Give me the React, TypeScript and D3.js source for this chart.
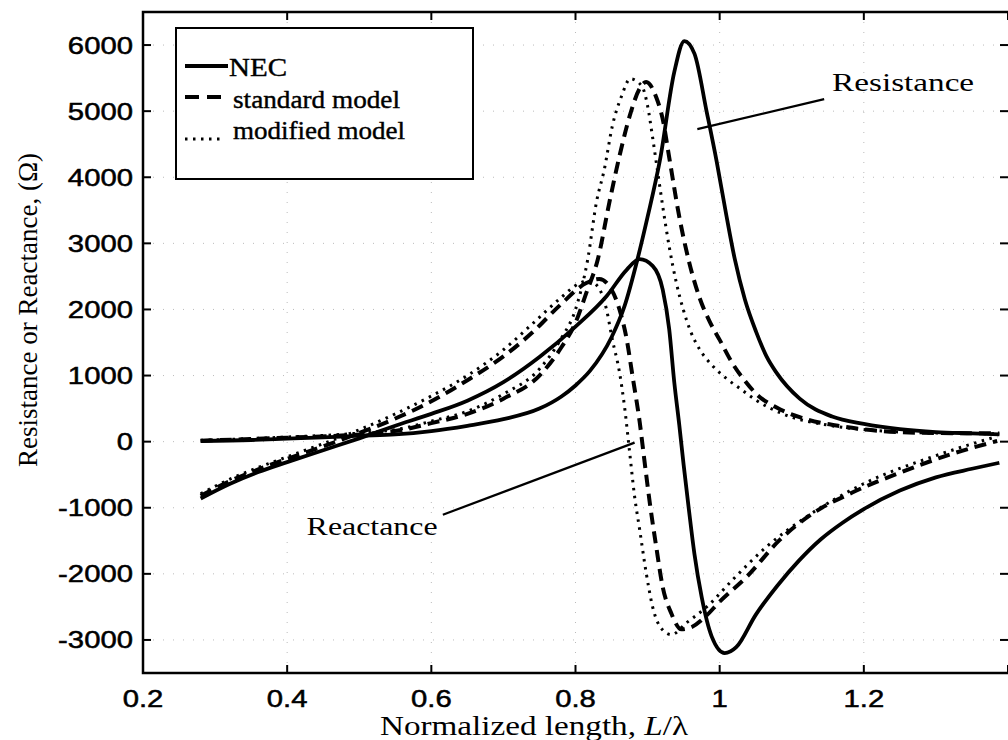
import React, { useEffect, useRef } from "react";
import * as d3 from "d3";

// tick values / labels
const xTicks = [0.2, 0.4, 0.6, 0.8, 1, 1.2, 1.4];
const xTickLabels = ["0.2", "0.4", "0.6", "0.8", "1", "1.2", ""];
const yTicks = [-3000, -2000, -1000, 0, 1000, 2000, 3000, 4000, 5000, 6000];
const yTickLabels = ["-3000", "-2000", "-1000", "0", "1000", "2000", "3000", "4000", "5000", "6000"];

// NEC (solid)
const necResistance = [
  [0.28, 10], [0.35, 25], [0.4, 45], [0.45, 65], [0.5, 90], [0.55, 110], [0.6, 160],
  [0.65, 240], [0.7, 340], [0.75, 500], [0.78, 680], [0.8, 850], [0.82, 1070], [0.85, 1580],
  [0.868, 2050], [0.886, 2760], [0.9, 3400], [0.917, 4250], [0.937, 5590], [0.951, 6060],
  [0.965, 5870], [0.982, 4990], [0.996, 4230], [1.009, 3440], [1.021, 2760], [1.035, 2150],
  [1.051, 1650], [1.065, 1290], [1.079, 1040], [1.111, 650], [1.156, 380], [1.2, 270],
  [1.25, 190], [1.3, 145], [1.35, 125], [1.388, 110],
];
const necReactance = [
  [0.28, -860], [0.32, -640], [0.36, -460], [0.4, -310], [0.45, -130], [0.5, 50], [0.55, 240],
  [0.6, 420], [0.65, 620], [0.7, 900], [0.75, 1280], [0.8, 1740], [0.843, 2200], [0.871, 2600],
  [0.889, 2760], [0.907, 2660], [0.921, 2300], [0.93, 1700], [0.937, 900], [0.944, 250],
  [0.95, -350], [0.957, -1000], [0.965, -1700], [0.975, -2350], [0.989, -2950], [1.007, -3200],
  [1.023, -3110], [1.05, -2620], [1.08, -2180], [1.11, -1800], [1.14, -1480], [1.17, -1230],
  [1.2, -1020], [1.25, -740], [1.3, -540], [1.35, -410], [1.388, -320],
];

// standard model (dashed)
const stdResistance = [
  [0.28, 15], [0.4, 60], [0.5, 110], [0.56, 180], [0.6, 280], [0.65, 420], [0.7, 650],
  [0.75, 1000], [0.78, 1420], [0.8, 1800], [0.815, 2250], [0.831, 2760], [0.847, 3620],
  [0.861, 4320], [0.875, 4920], [0.89, 5360], [0.898, 5440], [0.912, 5210], [0.921, 4880],
  [0.93, 4300], [0.944, 3400], [0.958, 2700], [0.972, 2180], [0.986, 1820], [1.0, 1540],
  [1.018, 1180], [1.035, 920], [1.052, 710], [1.079, 515], [1.111, 370], [1.17, 230],
  [1.226, 160], [1.3, 130], [1.388, 125],
];
const stdReactance = [
  [0.28, -820], [0.32, -600], [0.36, -420], [0.4, -260], [0.45, -70], [0.5, 130], [0.55, 350],
  [0.6, 610], [0.65, 930], [0.7, 1290], [0.74, 1650], [0.78, 2080], [0.815, 2400], [0.833, 2460],
  [0.847, 2350], [0.861, 2000], [0.871, 1550], [0.879, 1000], [0.889, 300], [0.896, -320],
  [0.903, -920], [0.912, -1590], [0.921, -2200], [0.933, -2600], [0.947, -2840], [0.962, -2800],
  [0.98, -2650], [1.0, -2420], [1.037, -2050], [1.083, -1490], [1.13, -1080], [1.184, -770],
  [1.25, -470], [1.318, -200], [1.385, 10],
];

// modified model (dotted)
const modResistance = [
  [0.28, 20], [0.4, 70], [0.5, 130], [0.56, 200], [0.6, 310], [0.65, 460], [0.7, 720],
  [0.75, 1100], [0.78, 1560], [0.8, 2000], [0.817, 2760], [0.829, 3620], [0.84, 4120],
  [0.851, 4770], [0.864, 5230], [0.876, 5490], [0.892, 5380], [0.9, 5080], [0.907, 4600],
  [0.914, 4080], [0.921, 3560], [0.93, 2950], [0.94, 2400], [0.95, 1980], [0.96, 1660],
  [0.972, 1400], [0.99, 1150], [1.01, 950], [1.03, 790], [1.05, 630], [1.09, 410],
  [1.156, 240], [1.22, 165], [1.3, 130], [1.388, 120],
];
const modReactance = [
  [0.28, -790], [0.32, -570], [0.36, -390], [0.4, -230], [0.45, -30], [0.5, 180], [0.55, 420],
  [0.6, 690], [0.65, 1000], [0.7, 1390], [0.74, 1780], [0.78, 2180], [0.806, 2400], [0.818, 2440],
  [0.832, 2330], [0.843, 2000], [0.851, 1550], [0.861, 1050], [0.868, 530], [0.875, -150],
  [0.882, -830], [0.889, -1330], [0.898, -1980], [0.907, -2500], [0.921, -2850], [0.933, -2920],
  [0.954, -2740], [0.982, -2500], [1.018, -2090], [1.065, -1590], [1.12, -1140], [1.203, -620],
  [1.295, -230], [1.385, 80],
];

const legendNames = ["NEC", "standard model", "modified model"];

const W = 1008;
const H = 740;
const SERIF = "'Liberation Serif', 'Times New Roman', Times, serif";
const SANS = "'Liberation Sans', Arial, Helvetica, sans-serif";

const App = () => {
  const svgRef = useRef(null);

  useEffect(() => {
    const svg = d3.select(svgRef.current);
    svg.selectAll("*").remove();

    const left = 143, right = 1008, top = 12, bottom = 673;
    const x = d3.scaleLinear().domain([0.2, 1.4]).range([left, right]);
    const y = d3.scaleLinear().domain([-3500, 6500]).range([bottom, top]);

    // grid (faint dotted, matlab style)
    const grid = svg.append("g").attr("stroke", "#bbb").attr("stroke-width", 1).attr("stroke-dasharray", "1,9");
    xTicks.slice(1, -1).forEach((t) =>
      grid.append("line").attr("x1", x(t)).attr("x2", x(t)).attr("y1", top).attr("y2", bottom)
    );
    yTicks.forEach((t) =>
      grid.append("line").attr("x1", left).attr("x2", right).attr("y1", y(t)).attr("y2", y(t))
    );

    // curves
    const line = d3
      .line()
      .x((d) => x(d[0]))
      .y((d) => y(d[1]))
      .curve(d3.curveMonotoneX);

    const styles = {
      solid: { w: 3.8, dash: null },
      dashed: { w: 4, dash: "12,7" },
      dotted: { w: 3, dash: "2.5,5.5" },
    };
    const series = [
      [necResistance, "solid"],
      [necReactance, "solid"],
      [stdResistance, "dashed"],
      [stdReactance, "dashed"],
      [modResistance, "dotted"],
      [modReactance, "dotted"],
    ];
    series.forEach(([data, kind]) => {
      const s = styles[kind];
      svg
        .append("path")
        .datum(data)
        .attr("d", line)
        .attr("fill", "none")
        .attr("stroke", "#000")
        .attr("stroke-width", s.w)
        .attr("stroke-dasharray", s.dash)
        .attr("stroke-linejoin", "round");
    });

    // frame
    svg
      .append("rect")
      .attr("x", left)
      .attr("y", top)
      .attr("width", right - left + 2)
      .attr("height", bottom - top)
      .attr("fill", "none")
      .attr("stroke", "#000")
      .attr("stroke-width", 2.5);

    // ticks
    const tk = svg.append("g").attr("stroke", "#000").attr("stroke-width", 2);
    xTicks.forEach((t) => {
      tk.append("line").attr("x1", x(t)).attr("x2", x(t)).attr("y1", bottom).attr("y2", bottom - 8);
      tk.append("line").attr("x1", x(t)).attr("x2", x(t)).attr("y1", top).attr("y2", top + 8);
    });
    yTicks.forEach((t) => {
      tk.append("line").attr("x1", left).attr("x2", left + 8).attr("y1", y(t)).attr("y2", y(t));
      tk.append("line").attr("x1", right).attr("x2", right - 8).attr("y1", y(t)).attr("y2", y(t));
    });

    // tick labels
    xTicks.forEach((t, i) => {
      svg
        .append("text")
        .attr("transform", `translate(${x(t)},${bottom + 34}) scale(1.22,1)`)
        .attr("text-anchor", "middle")
        .attr("font-family", SANS)
        .attr("font-size", 24)
        .attr("stroke", "#000")
        .attr("stroke-width", 0.5)
        .text(xTickLabels[i]);
    });
    yTicks.forEach((t, i) => {
      svg
        .append("text")
        .attr("transform", `translate(${left - 10},${y(t) + 8.5}) scale(1.22,1)`)
        .attr("text-anchor", "end")
        .attr("font-family", SANS)
        .attr("font-size", 24)
        .attr("stroke", "#000")
        .attr("stroke-width", 0.5)
        .text(yTickLabels[i]);
    });

    // axis titles
    const xl = svg
      .append("text")
      .attr("x", 380)
      .attr("y", 735)
      .attr("font-family", SERIF)
      .attr("font-size", 28)
      .attr("textLength", 308)
      .attr("lengthAdjust", "spacingAndGlyphs");
    xl.append("tspan").text("Normalized length, ");
    xl.append("tspan").attr("font-style", "italic").text("L");
    xl.append("tspan").text("/λ");

    svg
      .append("text")
      .attr("transform", `translate(37,310) rotate(-90)`)
      .attr("text-anchor", "middle")
      .attr("font-family", SERIF)
      .attr("font-size", 27)
      .text("Resistance or Reactance, (Ω)");

    // annotations
    const ann = svg.append("g").attr("stroke", "#000").attr("stroke-width", 2.2);
    ann.append("line").attr("x1", x(0.969)).attr("y1", y(4727)).attr("x2", x(1.145)).attr("y2", y(5182));
    ann.append("line").attr("x1", x(0.616)).attr("y1", y(-1106)).attr("x2", x(0.882)).attr("y2", y(-15));
    svg
      .append("text")
      .attr("x", x(1.156))
      .attr("y", y(5303))
      .attr("font-family", SERIF)
      .attr("font-size", 26)
      .attr("textLength", 142)
      .attr("lengthAdjust", "spacingAndGlyphs")
      .text("Resistance");
    svg
      .append("text")
      .attr("x", x(0.427))
      .attr("y", y(-1409))
      .attr("font-family", SERIF)
      .attr("font-size", 26)
      .attr("textLength", 131)
      .attr("lengthAdjust", "spacingAndGlyphs")
      .text("Reactance");

    // legend
    const lg = svg.append("g");
    lg.append("rect")
      .attr("x", 176)
      .attr("y", 28)
      .attr("width", 297)
      .attr("height", 151)
      .attr("fill", "#fff")
      .attr("stroke", "#000")
      .attr("stroke-width", 2);
    const rows = [
      { kind: "solid", ly: 66, ty: 76, len: 58 },
      { kind: "dashed", ly: 97, ty: 108, len: 167 },
      { kind: "dotted", ly: 139, ty: 139, len: 172 },
    ];
    rows.forEach((r, i) => {
      const s = styles[r.kind];
      lg.append("line")
        .attr("x1", 185)
        .attr("x2", r.kind === "solid" ? 228 : 223)
        .attr("y1", r.ly)
        .attr("y2", r.ly)
        .attr("stroke", "#000")
        .attr("stroke-width", s.w)
        .attr("stroke-dasharray", r.kind === "dashed" ? "14,8" : s.dash);
      lg.append("text")
        .attr("x", i === 0 ? 229 : 233)
        .attr("y", r.ty)
        .attr("font-family", SERIF)
        .attr("font-size", 25)
        .attr("stroke", "#000")
        .attr("stroke-width", 0.4)
        .attr("textLength", r.len)
        .attr("lengthAdjust", "spacingAndGlyphs")
        .text(legendNames[i]);
    });
  }, []);

  return (
    <div style={{ position: "absolute", left: 0, top: 0, width: W, height: H, background: "#fff" }}>
      <svg ref={svgRef} width={W} height={H} style={{ display: "block" }}></svg>
    </div>
  );
};

export default App;
